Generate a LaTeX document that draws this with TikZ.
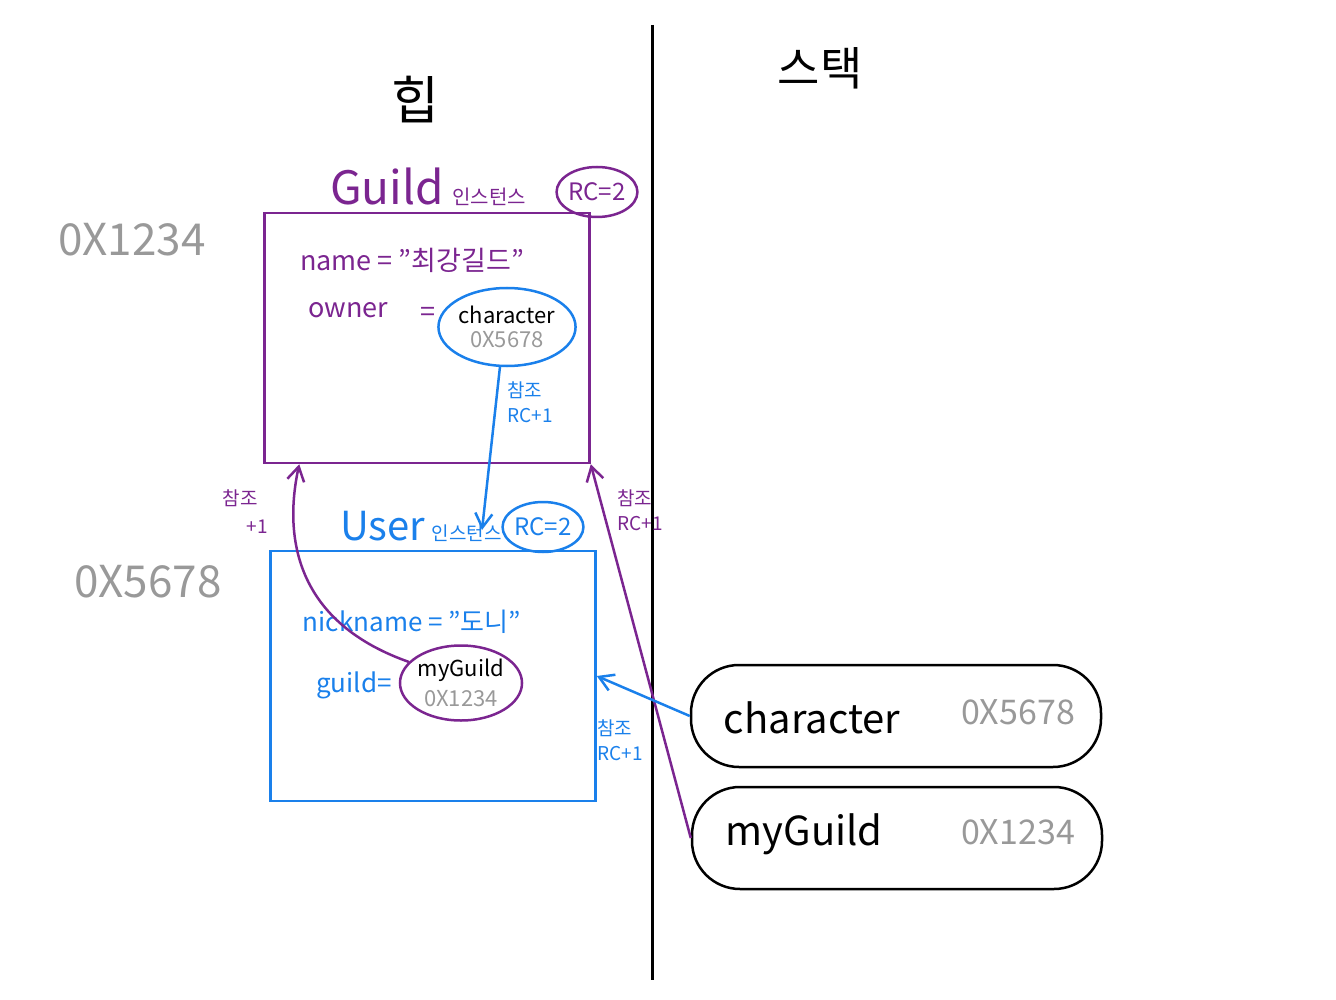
\documentclass[tikz,border=0pt]{standalone}
\usepackage{fontspec}
\setmainfont{Noto Sans CJK KR}
\usetikzlibrary{arrows.meta,positioning,calc,shapes.geometric}
\definecolor{heapPurple}{HTML}{7B2590}
\definecolor{heapBlue}{HTML}{1A80EB}
\definecolor{addrGray}{HTML}{999999}

\newcommand{\fs}[1]{\fontsize{#1}{#1}\selectfont}

\begin{document}
\begin{tikzpicture}[
  x=1pt, y=-1pt,
  every node/.style={inner sep=0pt},
  objbox/.style={rectangle, line width=2.5pt, minimum width=325pt, minimum height=250pt},
  refoval/.style={ellipse, line width=2.5pt, inner sep=0pt},
  slot/.style={rectangle, rounded corners=48pt, draw=black, line width=2.5pt,
    minimum width=410pt, minimum height=102pt},
  addr/.style={text=addrGray},
  reflabel/.style={align=left, font=\fs{19}},
  refarrow/.style={-{Straight Barb[length=5mm, width=6mm]}, line width=2.5pt},
]
\useasboundingbox (0,0) rectangle (1336,1000);

% Heap / stack divider
\draw[line width=3pt] (652,25) coordinate (divtop) -- (652,980) coordinate (divbot);
\node (heaptitle) at (415,100) {\fs{52}힙};
\node (stacktitle) at (820,68) {\fs{46}스택};

% Guild instance
\node[objbox, draw=heapPurple] (guildbox) at (427,338) {};
\node[text=heapPurple, anchor=base west] (guildname) at (330,205) {\fs{46}Guild};
\node[text=heapPurple, right=8pt of guildname.base east, anchor=base west] (guildinst) {\fs{20}인스턴스};
\node[refoval, draw=heapPurple, minimum width=78pt, minimum height=50pt, text=heapPurple] (guildrc) at (597,192) {\fs{24}RC=2};
\node[addr] (guildaddr) at (132,240) {\fs{44}0X1234};
\node[text=heapPurple] (guildfield1) at (412,260) {\fs{27}name = "최강길드"};
\node[text=heapPurple] (guildfield2) at (348,310) {\fs{27}owner};
\node[text=heapPurple] (guildeq) at (428,314) {\fs{27}=};
\node[refoval, draw=heapBlue, minimum width=128pt, minimum height=78pt, align=center] (ownerref) at (507,327)
  {\fs{22}character\\[7pt]{\color{addrGray}\fs{22}0X5678}};

% User instance
\node[objbox, draw=heapBlue] (userbox) at (433,676) {};
\node[text=heapBlue, anchor=base west] (username) at (340,540) {\fs{40}User};
\node[text=heapBlue, right=6pt of username.base east, anchor=base west] (userinst) {\fs{19}인스턴스};
\node[refoval, draw=heapBlue, minimum width=80pt, minimum height=50pt, text=heapBlue] (userrc) at (543,527) {\fs{24}RC=2};
\node[addr] (useraddr) at (148,582) {\fs{44}0X5678};
\node[text=heapBlue] (userfield1) at (412,622) {\fs{26}nickname = "도니"};
\node[text=heapBlue] (userfield2) at (354,685) {\fs{26}guild=};
\node[refoval, draw=heapPurple, minimum width=120pt, minimum height=75pt, align=center] (guildref) at (461,683)
  {\fs{22}myGuild\\[7pt]{\color{addrGray}\fs{22}0X1234}};

% Stack slots
\node[slot] (charslot) at (896,716) {};
\node (charvar) at (812,718) {\fs{40}character};
\node[addr] (charaddr) at (1018,712) {\fs{34}0X5678};
\node[slot] (guildslot) at (897,838) {};
\node (guildvar) at (804,834) {\fs{40}myGuild};
\node[addr] (guildslotaddr) at (1018,832) {\fs{34}0X1234};

% References
\coordinate (userin) at (482,530);
\draw[refarrow, heapBlue] (ownerref.260) -- (userin);
\node[reflabel, text=heapBlue] (lblowner) at (530,402) {참조\\[6pt]RC+1};

\draw[refarrow, heapPurple] (guildref.158) .. controls (290,620) and (285,530) .. ([xshift=36pt]guildbox.south west);
\node[reflabel, text=heapPurple] (lblguild) at (240,498) {참조};
\node[reflabel, text=heapPurple] (lblguildrc) at (257,527) {+1};

\draw[refarrow, heapPurple] (guildslot.west) -- (guildbox.south east);
\node[reflabel, text=heapPurple] (lblslotguild) at (640,510) {참조\\[6pt]RC+1};

\draw[refarrow, heapBlue] (charslot.west) -- (userbox.east);
\node[reflabel, text=heapBlue] (lblslotchar) at (620,740) {참조\\[6pt]RC+1};
\end{tikzpicture}
\end{document}
